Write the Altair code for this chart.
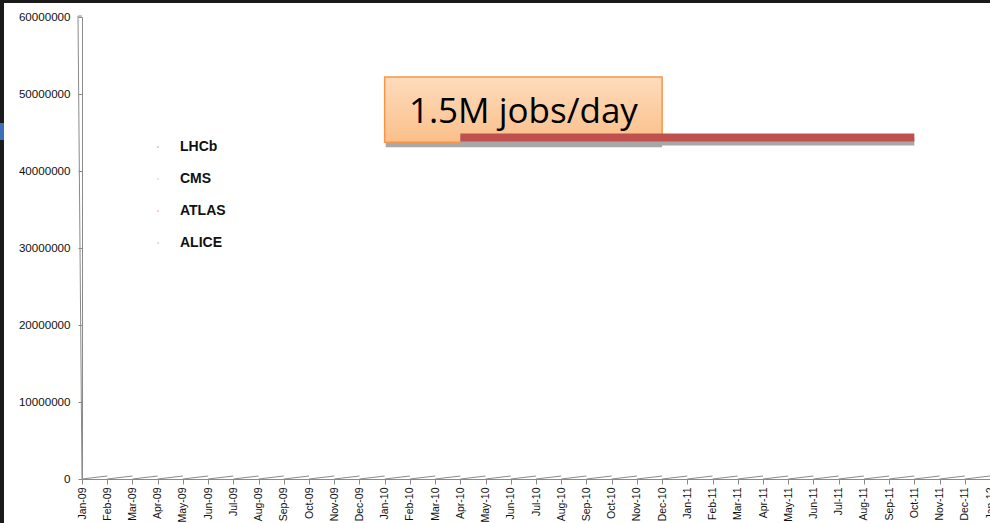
import altair as alt
import pandas as pd

# ---- data ----
months = ["Jan-09", "Feb-09", "Mar-09", "Apr-09", "May-09", "Jun-09", "Jul-09", "Aug-09",
          "Sep-09", "Oct-09", "Nov-09", "Dec-09", "Jan-10", "Feb-10", "Mar-10", "Apr-10",
          "May-10", "Jun-10", "Jul-10", "Aug-10", "Sep-10", "Oct-10", "Nov-10", "Dec-10",
          "Jan-11", "Feb-11", "Mar-11", "Apr-11", "May-11", "Jun-11", "Jul-11", "Aug-11",
          "Sep-11", "Oct-11", "Nov-11", "Dec-11", "Jan-12"]
series = ["LHCb", "CMS", "ATLAS", "ALICE"]
series_colors = ["#9fa6d6", "#f2b8c6", "#f09aa8", "#eeb0c0"]
y_ticks = [0, 10000000, 20000000, 30000000, 40000000, 50000000, 60000000]

target_label = "1.5M jobs/day"
target_start, target_end = "Apr-10", "Oct-11"
target_value = 44350000
box_start, box_end = "Jan-10", "Dec-10"
box_low, box_high = 43750000, 52200000
label_value = 46200000

idx = list(range(len(months)))
label_expr = "[" + ",".join("'%s'" % m for m in months) + "][datum.value]"

W, H = 908, 462
x_scale = alt.Scale(domain=[0, len(months) - 1], nice=False, zero=False)
y_scale = alt.Scale(domain=[0, 60000000], nice=False)
GRAY = "#8a8a8a"

xax = alt.Axis(values=idx, labelExpr=label_expr, labelAngle=270, title=None,
               labelFont="Liberation Sans", labelFontSize=10.5, labelColor="#111",
               labelOverlap=False, labelFlush=False, labelPadding=3,
               tickSize=5, tickColor=GRAY, domainColor=GRAY, grid=False)
yax = alt.Axis(values=y_ticks, format="d", title=None, labelFont="Liberation Sans",
               labelFontSize=11.6, labelColor="#111", labelPadding=8,
               tickSize=4, tickColor=GRAY, domainColor=GRAY, grid=False)


def X(f):
    return alt.X(f, scale=x_scale, axis=xax, title=None)


def Y(f):
    return alt.Y(f, scale=y_scale, axis=yax, title=None)


# axes carrier
axes_df = pd.DataFrame({"i": [0], "v": [0]})
axes = alt.Chart(axes_df).mark_point(opacity=0).encode(x=X("i:Q"), y=Y("v:Q"))

# zig-zag floor of the broken 3D axis
floor = pd.DataFrame({"i": idx[:-1], "j": idx[1:]})
zig = alt.Chart(floor).mark_rule(color=GRAY, strokeWidth=1).encode(
    x=X("i:Q"), x2="j:Q", y=alt.value(H), y2=alt.value(H - 3))

one = pd.DataFrame({"k": [0]})
ysliver = alt.Chart(one).mark_rule(color=GRAY, strokeWidth=1).encode(
    x=alt.value(-4), x2=alt.value(0), y=alt.value(-1), y2=alt.value(H))
ycap = alt.Chart(one).mark_rule(color=GRAY, strokeWidth=1).encode(
    x=alt.value(-4), x2=alt.value(0), y=alt.value(-1))

# frame strips of the screenshot
frame_left = alt.Chart(one).mark_rect(color="#1b1b1b").encode(
    x=alt.value(-82), x2=alt.value(-78), y=alt.value(-17), y2=alt.value(H + 44))
frame_blue = alt.Chart(one).mark_rect(color="#3f6fb5").encode(
    x=alt.value(-82), x2=alt.value(-78), y=alt.value(106), y2=alt.value(123))
frame_top = alt.Chart(one).mark_rect(color="#1b1b1b").encode(
    x=alt.value(-82), x2=alt.value(W), y=alt.value(-17), y2=alt.value(-14))

# legend (markers are nearly invisible in the reference)
leg_df = pd.DataFrame({"series": series})
legend = alt.Chart(leg_df).mark_point(opacity=0, filled=True).encode(
    x=alt.value(0), y=alt.value(0),
    color=alt.Color("series:N", scale=alt.Scale(domain=series, range=series_colors),
                    legend=alt.Legend(orient="none", legendX=69, legendY=123, title=None,
                                      padding=0, labelFont="Liberation Sans",
                                      labelFontWeight="bold", labelFontSize=14,
                                      labelColor="#111", symbolSize=5, symbolOpacity=0.6,
                                      symbolType="circle", labelOffset=15, rowPadding=18)),
)

# annotation box
box_df = pd.DataFrame({"x0": [months.index(box_start)], "x1": [months.index(box_end)],
                       "y0": [box_low], "y1": [box_high],
                       "xm": [(months.index(box_start) + months.index(box_end)) / 2],
                       "ym": [label_value], "t": [target_label]})
grad = alt.LinearGradient(gradient="linear", x1=0, x2=0, y1=0, y2=1,
                          stops=[alt.GradientStop(color="#fedcbc", offset=0),
                                 alt.GradientStop(color="#fbbf8b", offset=1)])
box_shadow = alt.Chart(box_df).mark_rect(color="#a9a9a9", yOffset=5, xOffset=1).encode(
    x=X("x0:Q"), x2="x1:Q", y=Y("y0:Q"), y2="y1:Q")
box = alt.Chart(box_df).mark_rect(fill=grad, stroke="#f79646", strokeWidth=1.5).encode(
    x=X("x0:Q"), x2="x1:Q", y=Y("y0:Q"), y2="y1:Q")
box_text = alt.Chart(box_df).mark_text(font="Open Sans", fontSize=35, color="#000",
                                       baseline="alphabetic", align="center").encode(
    x=X("xm:Q"), y=Y("ym:Q"), text="t:N")

# target line
tgt_df = pd.DataFrame({"x0": [months.index(target_start)], "x1": [months.index(target_end)],
                       "v": [target_value]})
tgt_shadow = alt.Chart(tgt_df).mark_rule(color="#a8a8a8", strokeWidth=8, yOffset=4,
                                         strokeCap="butt").encode(
    x=X("x0:Q"), x2="x1:Q", y=Y("v:Q"))
tgt = alt.Chart(tgt_df).mark_rule(color="#c0504d", strokeWidth=8, strokeCap="butt").encode(
    x=X("x0:Q"), x2="x1:Q", y=Y("v:Q"))

chart = alt.layer(
    axes, frame_left, frame_blue, frame_top, zig, ysliver, ycap, legend,
    box_shadow, box, box_text, tgt_shadow, tgt,
).properties(
    width=W, height=H,
    autosize=alt.AutoSizeParams(type="none"),
    padding={"left": 82, "top": 17, "right": 0, "bottom": 44},
    background="white",
).configure_view(stroke=None)

chart.save("out.html", embed_options={"renderer": "svg", "actions": False})
